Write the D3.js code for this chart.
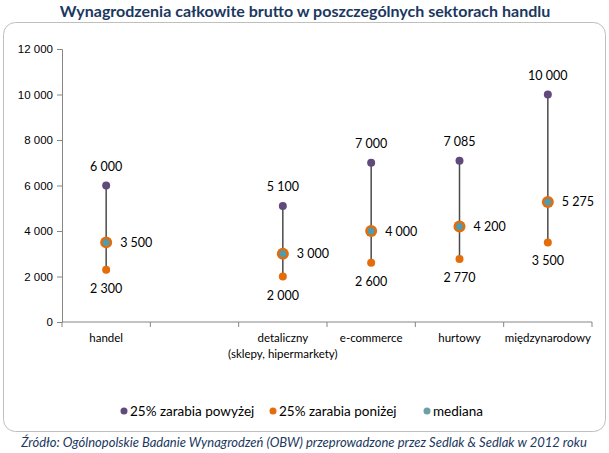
<!DOCTYPE html>
<html>
<head>
<meta charset="utf-8">
<script src="https://cdn.jsdelivr.net/npm/d3@7"></script>
<style>
  body { margin: 0; background: #fff; }
  svg { font-family: Lato, "Open Sans", sans-serif; }
</style>
</head>
<body>
<svg id="chart" width="609" height="453"></svg>
<script>
// data
let categories = ['handel', '', 'detaliczny', 'e-commerce', 'hurtowy', 'międzynarodowy'];
let upper  = [6000, null, 5100, 7000, 7085, 10000];
let lower  = [2300, null, 2000, 2600, 2770, 3500];
let median = [3500, null, 3000, 4000, 4200, 5275];
let yTicks = [0, 2000, 4000, 6000, 8000, 10000, 12000];
let legendLabels = ['25% zarabia powyżej', '25% zarabia poniżej', 'mediana'];

let purple = '#604a7b', orange = '#e46c0a', teal = '#4f9bb0', tealLegend = '#6e9ea6';
let fmt = function(v) { return d3.format(',')(v).replace(/,/g, ' '); };

let svg = d3.select('#chart');

svg.append('text')
  .attr('x', 305).attr('y', 17)
  .attr('text-anchor', 'middle')
  .attr('font-size', 16).attr('font-weight', 'bold')
  .attr('fill', '#1b3860')
  .text('Wynagrodzenia całkowite brutto w poszczególnych sektorach handlu');

svg.append('rect')
  .attr('x', 3.5).attr('y', 22.5)
  .attr('width', 602).attr('height', 409)
  .attr('rx', 12)
  .attr('fill', '#fff').attr('stroke', '#bfbfbf');

let x = d3.scaleBand()
  .domain(d3.range(categories.length))
  .range([62, 592]);
let y = d3.scaleLinear()
  .domain([0, 12000])
  .range([322, 49]);

// y axis
let yAxis = svg.append('g')
  .attr('transform', 'translate(62,0)')
  .call(d3.axisLeft(y).tickValues(yTicks).tickSize(5).tickFormat(fmt));
yAxis.selectAll('text').attr('font-size', 11.5).attr('fill', '#000').attr('x', -9);
yAxis.selectAll('line, path').attr('stroke', '#868686');

// x axis with ticks between categories
let xAxis = svg.append('g')
  .attr('transform', 'translate(0,322)');
xAxis.append('line')
  .attr('x1', 62).attr('x2', 592)
  .attr('stroke', '#868686');
xAxis.selectAll('line.tick')
  .data(d3.range(categories.length + 1))
  .join('line')
  .attr('class', 'tick')
  .attr('x1', function(d) { return 62 + d * x.step(); })
  .attr('x2', function(d) { return 62 + d * x.step(); })
  .attr('y1', 0).attr('y2', 5)
  .attr('stroke', '#868686');
xAxis.selectAll('text.cat')
  .data(categories)
  .join('text')
  .attr('class', 'cat')
  .attr('x', function(d, i) { return x(i) + x.bandwidth() / 2; })
  .attr('y', 20)
  .attr('text-anchor', 'middle')
  .attr('font-size', 11.5)
  .attr('fill', '#000')
  .text(function(d) { return d; });
xAxis.append('text')
  .attr('x', x(2) + x.bandwidth() / 2)
  .attr('y', 36)
  .attr('text-anchor', 'middle')
  .attr('font-size', 11.5)
  .attr('fill', '#000')
  .text('(sklepy, hipermarkety)');

let rows = d3.range(categories.length)
  .filter(function(i) { return upper[i] != null; })
  .map(function(i) {
    return { i: i, cx: x(i) + x.bandwidth() / 2, up: upper[i], lo: lower[i], med: median[i] };
  });

let g = svg.append('g');

g.selectAll('line.range')
  .data(rows)
  .join('line')
  .attr('class', 'range')
  .attr('x1', function(d) { return d.cx; })
  .attr('x2', function(d) { return d.cx; })
  .attr('y1', function(d) { return y(d.up); })
  .attr('y2', function(d) { return y(d.lo); })
  .attr('stroke', '#4a4a4a')
  .attr('stroke-width', 1.5);

g.selectAll('circle.up')
  .data(rows)
  .join('circle')
  .attr('class', 'up')
  .attr('cx', function(d) { return d.cx; })
  .attr('cy', function(d) { return y(d.up); })
  .attr('r', 4)
  .attr('fill', purple);

g.selectAll('circle.lo')
  .data(rows)
  .join('circle')
  .attr('class', 'lo')
  .attr('cx', function(d) { return d.cx; })
  .attr('cy', function(d) { return y(d.lo); })
  .attr('r', 4)
  .attr('fill', orange);

g.selectAll('circle.medring')
  .data(rows)
  .join('circle')
  .attr('class', 'medring')
  .attr('cx', function(d) { return d.cx; })
  .attr('cy', function(d) { return y(d.med); })
  .attr('r', 6)
  .attr('fill', orange);

g.selectAll('circle.med')
  .data(rows)
  .join('circle')
  .attr('class', 'med')
  .attr('cx', function(d) { return d.cx; })
  .attr('cy', function(d) { return y(d.med); })
  .attr('r', 3.5)
  .attr('fill', teal);

// value labels
g.selectAll('text.uplab')
  .data(rows)
  .join('text')
  .attr('class', 'uplab')
  .attr('x', function(d) { return d.cx; })
  .attr('y', function(d) { return y(d.up) - 15; })
  .attr('text-anchor', 'middle')
  .attr('font-size', 12.5)
  .attr('fill', '#000')
  .text(function(d) { return fmt(d.up); });

g.selectAll('text.lolab')
  .data(rows)
  .join('text')
  .attr('class', 'lolab')
  .attr('x', function(d) { return d.cx; })
  .attr('y', function(d) { return y(d.lo) + 23; })
  .attr('text-anchor', 'middle')
  .attr('font-size', 12.5)
  .attr('fill', '#000')
  .text(function(d) { return fmt(d.lo); });

g.selectAll('text.medlab')
  .data(rows)
  .join('text')
  .attr('class', 'medlab')
  .attr('x', function(d) { return d.cx + 14; })
  .attr('y', function(d) { return y(d.med) + 4.5; })
  .attr('font-size', 12.5)
  .attr('fill', '#000')
  .text(function(d) { return fmt(d.med); });

// legend
let legendX = [124, 273, 427];
let legendColors = [purple, orange, tealLegend];
let legend = svg.append('g');
legend.selectAll('circle')
  .data(legendLabels)
  .join('circle')
  .attr('cx', function(d, i) { return legendX[i]; })
  .attr('cy', 411)
  .attr('r', 3.5)
  .attr('fill', function(d, i) { return legendColors[i]; });
legend.selectAll('text')
  .data(legendLabels)
  .join('text')
  .attr('x', function(d, i) { return legendX[i] + 6; })
  .attr('y', 416)
  .attr('font-size', 13.5)
  .attr('fill', '#000')
  .text(function(d) { return d; });

svg.append('text')
  .attr('x', 304).attr('y', 447)
  .attr('text-anchor', 'middle')
  .attr('font-size', 13)
  .attr('font-style', 'italic')
  .attr('fill', '#1b3860')
  .text('Źródło: Ogólnopolskie Badanie Wynagrodzeń (OBW) przeprowadzone przez Sedlak & Sedlak w 2012 roku');
</script>
</body>
</html>
